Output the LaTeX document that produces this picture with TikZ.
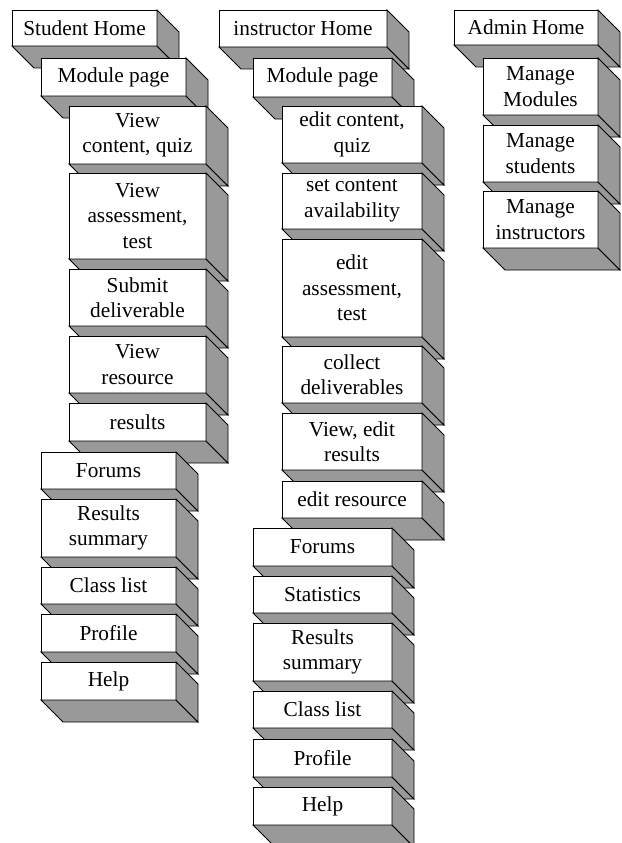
\documentclass[tikz,border=0pt]{standalone}
\usepackage{fontspec}
\setmainfont{Liberation Serif}
\definecolor{sidegray}{RGB}{153,153,153}
\tikzset{
  front/.style={draw=black, fill=white, line width=0.9pt, rectangle, inner sep=0pt, outer sep=0pt,
    align=center, font=\fontsize{21.3}{25.5}\selectfont},
  face/.style={draw=black, fill=sidegray, line width=0.9pt, line join=miter}
}
\newcommand\tdbox[6]{%
  \node[front, minimum width={#4-#2}, minimum height={#5-#3}] (#1) at ({(#2+#4)/2},{(#3+#5)/2}) {#6};
  \draw[face] (#1.south west) -- (#1.south east) -- ++(22,22) -- ++({#2-#4},0) -- cycle;
  \draw[face] (#1.north east) -- ++(22,22) -- ++(0,{#5-#3}) -- (#1.south east) -- cycle;
}
\begin{document}
\begin{tikzpicture}[x=1pt,y=-1pt]
\useasboundingbox (0,0) rectangle (621,843);
% Student column
\tdbox{sh}{12}{10}{157}{46}{Student Home}
\tdbox{smod}{41}{58}{186}{96}{Module page}
\tdbox{sview}{69}{106}{206}{164}{View\\content, quiz}
\tdbox{sassess}{69}{173}{206}{259}{View\\assessment,\\test}
\tdbox{ssubmit}{69}{269}{206}{326}{Submit\\deliverable}
\tdbox{sres}{69}{336}{206}{393}{View\\resource}
\tdbox{sresults}{69}{403}{206}{441}{results}
\tdbox{sforums}{41}{452}{176}{489}{Forums}
\tdbox{ssummary}{41}{499}{176}{557}{Results\\summary}
\tdbox{sclass}{41}{567}{176}{604}{Class list}
\tdbox{sprofile}{41}{614}{176}{652}{Profile}
\tdbox{shelp}{41}{662}{176}{700}{Help}
% Instructor column
\tdbox{ih}{219}{10}{387}{47}{instructor Home}
\tdbox{imod}{253}{58}{392}{97}{Module page}
\tdbox{iedit}{282}{106}{422}{163}{edit content,\\quiz}
\tdbox{iset}{282}{173}{422}{229}{set content\\availability}
\tdbox{iassess}{282}{239}{422}{337}{edit\\assessment,\\test}
\tdbox{icollect}{282}{346}{422}{403}{collect\\deliverables}
\tdbox{iresults}{282}{413}{422}{470}{View, edit\\results}
\tdbox{iresource}{282}{481}{422}{518}{edit resource}
\tdbox{iforums}{253}{528}{392}{566}{Forums}
\tdbox{istats}{253}{576}{392}{613}{Statistics}
\tdbox{isummary}{253}{623}{392}{681}{Results\\summary}
\tdbox{iclass}{253}{691}{392}{728}{Class list}
\tdbox{iprofile}{253}{739}{392}{777}{Profile}
\tdbox{ihelp}{253}{787}{392}{825}{Help}
% Admin column
\tdbox{ah}{454}{10}{598}{45}{Admin Home}
\tdbox{amod}{483}{58}{598}{115}{Manage\\Modules}
\tdbox{astud}{483}{125}{598}{182}{Manage\\students}
\tdbox{ainst}{483}{191}{598}{248}{Manage\\instructors}
\end{tikzpicture}
\end{document}
